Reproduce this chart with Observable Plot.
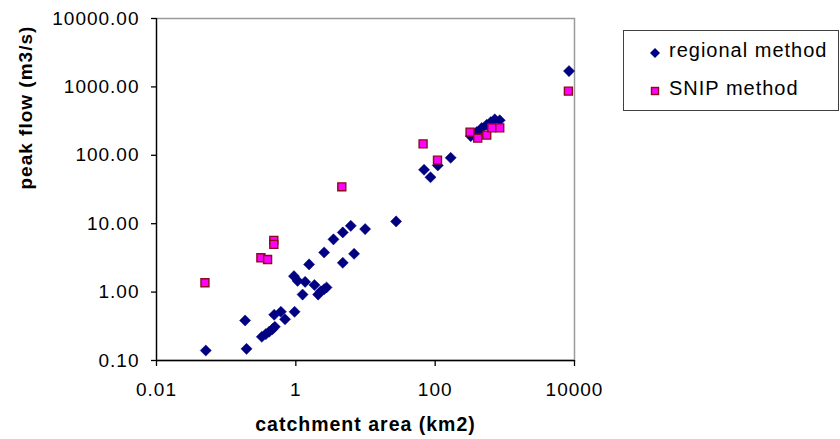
<!DOCTYPE html>
<html>
<head>
<meta charset="utf-8">
<script src="https://cdn.jsdelivr.net/npm/d3@7"></script>
<script src="https://cdn.jsdelivr.net/npm/@observablehq/plot@0.6"></script>
<style>
  body { margin: 0; background: #fff; }
  #wrap { position: relative; width: 840px; height: 439px; font-family: "Liberation Sans", Arial, sans-serif; color: #000; }
  #legend { position: absolute; left: 623px; top: 30px; width: 216px; height: 81px; box-sizing: border-box; border: 1.3px solid #404040; background: #fff; }
  .li { position: absolute; left: 0; font-size: 20px; letter-spacing: 1px; white-space: nowrap; }
  .li svg { position: absolute; left: 24px; }
  .li span { position: absolute; left: 45px; }
</style>
</head>
<body>
<div id="wrap">
  <div id="chart"></div>
  <div id="legend"></div>
</div>
<script>
// ---- data ----
const seriesNames = ["regional method", "SNIP method"];
const regionalArea = [0.051, 0.187, 0.196, 0.325, 0.371, 0.414, 0.463, 0.50, 0.489, 0.61, 0.70, 0.96, 0.94, 1.06, 1.25, 1.36, 1.55, 1.85, 2.09, 2.28, 2.55, 2.76, 2.55, 3.47, 4.72, 4.72, 6.15, 6.86, 9.88, 27.5, 69.3, 85.7, 109, 167, 324, 395, 466, 550, 628, 717, 845, 8340];
const regionalFlow = [0.14, 0.385, 0.148, 0.222, 0.243, 0.263, 0.288, 0.311, 0.466, 0.515, 0.40, 0.515, 1.71, 1.46, 0.92, 1.41, 2.54, 1.27, 0.92, 1.03, 1.10, 1.17, 3.8, 5.9, 7.46, 2.68, 9.3, 3.63, 8.34, 10.8, 61.4, 47.7, 71.2, 91.9, 191, 218, 250, 280, 305, 335, 325, 1702];
const snipArea = [0.0496, 0.315, 0.393, 0.483, 0.483, 4.57, 67.1, 108, 317, 408, 550, 649, 845, 8170];
const snipFlow = [1.37, 3.18, 3.0, 5.7, 4.98, 34.6, 147, 85, 218, 178, 197, 252, 252, 868];
const xDomain = [0.01, 10000];
const yDomain = [0.1, 10000];
const xTicks = [0.01, 1, 100, 10000];
const yTicks = [0.1, 1, 10, 100, 1000, 10000];
const xTitle = "catchment area (km2)";
const yTitle = "peak flow (m3/s)";

const regional = regionalArea.map((a, i) => ({area: a, flow: regionalFlow[i]}));
const snip = snipArea.map((a, i) => ({area: a, flow: snipFlow[i]}));

const navy = "#000080", magenta = "#ff00ff", maroon = "#8b0a1a";

const chart = Plot.plot({
  width: 840,
  height: 439,
  marginLeft: 156,
  marginRight: 266,
  marginTop: 18,
  marginBottom: 79,
  style: {fontFamily: "'Liberation Sans', Arial, sans-serif", fontSize: "19px", letterSpacing: "1px", color: "#000", background: "#fff"},
  x: {type: "log", domain: xDomain},
  y: {type: "log", domain: yDomain},
  marks: [
    Plot.frame({stroke: "#9a9a9a", strokeWidth: 1.5}),
    Plot.ruleX([xDomain[0]], {stroke: "#000", strokeWidth: 1.3}),
    Plot.ruleY([yDomain[0]], {stroke: "#000", strokeWidth: 1.3}),
    Plot.axisX({ticks: xTicks, tickFormat: d => String(d), tickSize: 6, tickPadding: 16, label: null, stroke: "#000", strokeWidth: 1.3}),
    Plot.axisY({ticks: yTicks, tickFormat: d3.format(".2f"), tickSize: 5, tickPadding: 12, label: null, stroke: "#000", strokeWidth: 1.3}),
    Plot.dot(regional, {x: "area", y: "flow", symbol: "diamond2", r: 5, fill: navy, stroke: navy, strokeWidth: 0.5}),
    Plot.dot(snip, {x: "area", y: "flow", symbol: "square", r: 4.5, fill: magenta, stroke: maroon, strokeWidth: 1.4}),
    Plot.text([xTitle], {frameAnchor: "bottom", dy: 64, lineAnchor: "middle", fontWeight: "bold", fontSize: 19.5, text: d => d, letterSpacing: "1.7px"}),
    Plot.text([yTitle], {frameAnchor: "left", dx: -131, rotate: -90, lineAnchor: "middle", fontWeight: "bold", fontSize: 19, text: d => d})
  ]
});
document.getElementById("chart").appendChild(chart);

// legend
const legend = document.getElementById("legend");
const markerSvgs = [
  `<svg width="14" height="14" viewBox="-7 -7 14 14"><path d="M0,-5L5,0L0,5L-5,0Z" fill="${navy}"/></svg>`,
  `<svg width="14" height="14" viewBox="-7 -7 14 14"><rect x="-3.5" y="-3.5" width="7" height="7" fill="${magenta}" stroke="${maroon}" stroke-width="1.4"/></svg>`
];
const rowTops = [8, 46];
seriesNames.forEach((name, i) => {
  const row = document.createElement("div");
  row.className = "li";
  row.style.top = rowTops[i] + "px";
  row.innerHTML = markerSvgs[i].replace("<svg", '<svg style="top:7px"') + `<span>${name}</span>`;
  legend.appendChild(row);
});
</script>
</body>
</html>
